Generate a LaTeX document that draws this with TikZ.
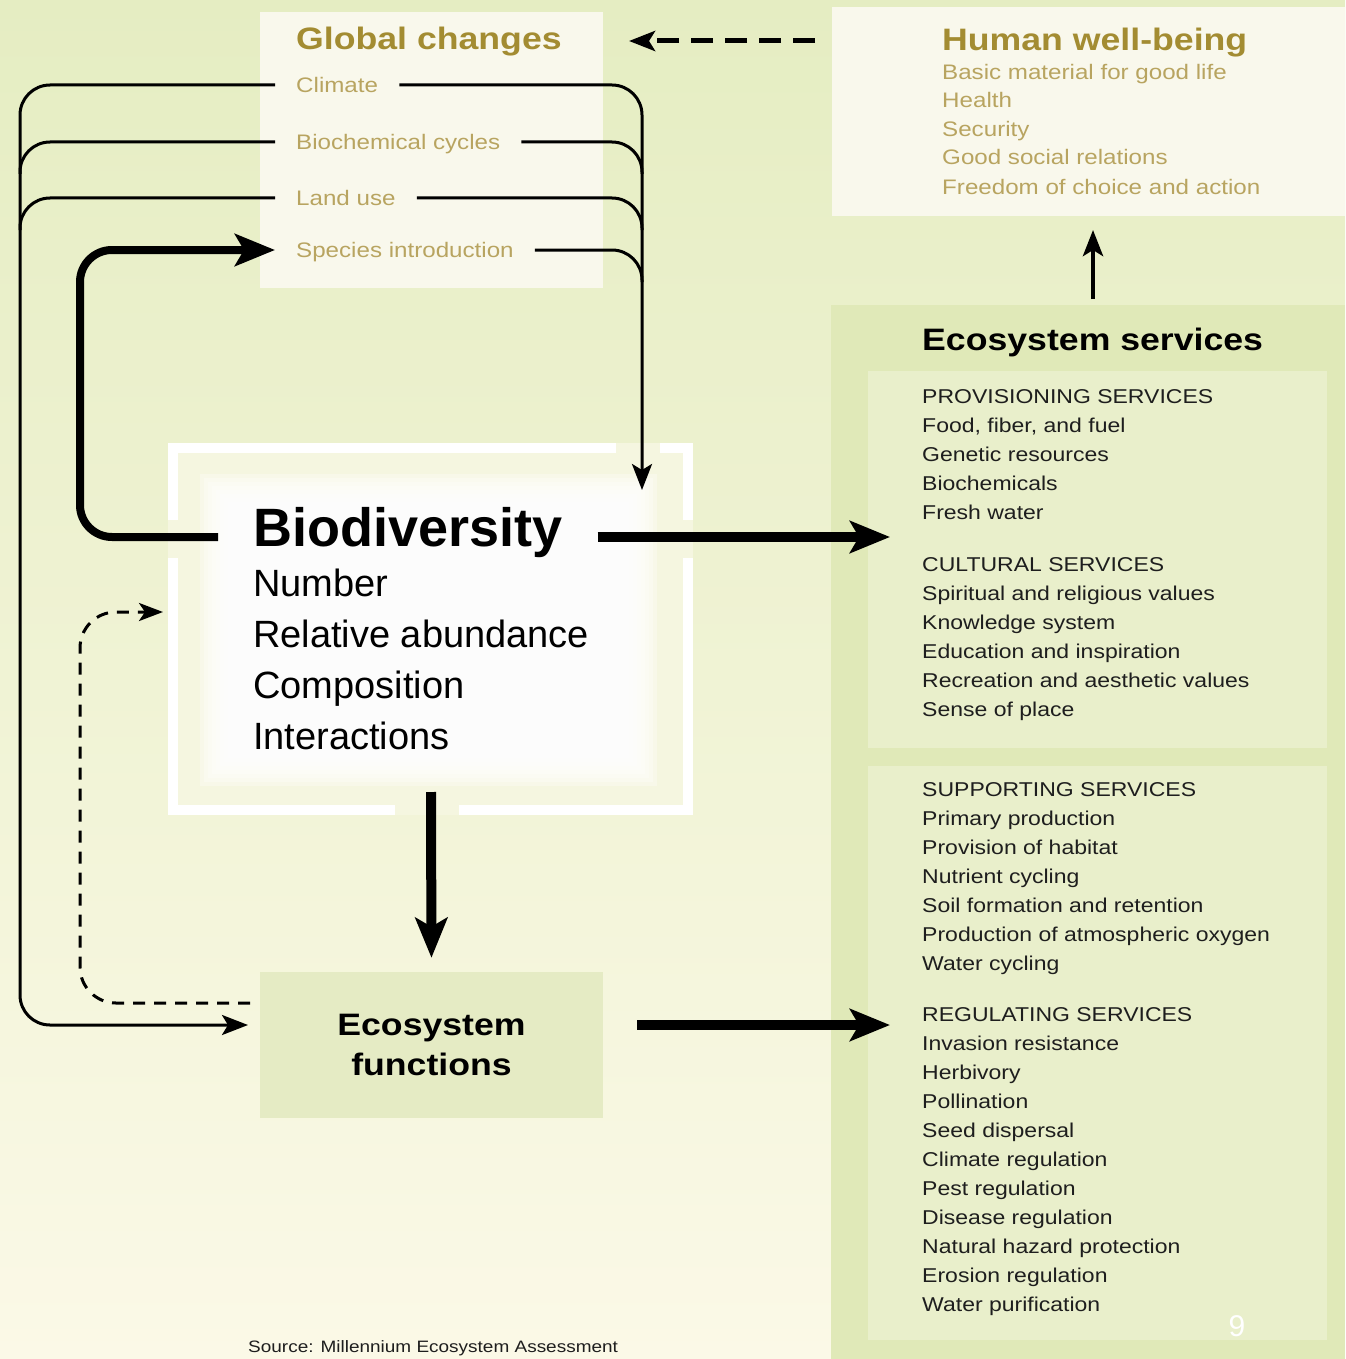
\documentclass[tikz,border=0pt]{standalone}
\usepackage{fontspec}
\setmainfont{Liberation Sans}
\newfontfamily\widesf[FakeStretch=1.15]{Liberation Sans}
\usetikzlibrary{arrows.meta}
\definecolor{bgtop}{RGB}{229,237,194}
\definecolor{bgbot}{RGB}{251,249,231}
\definecolor{boxfill}{RGB}{249,248,236}
\definecolor{panel}{RGB}{224,233,184}
\definecolor{panelin}{RGB}{233,239,203}
\definecolor{efbox}{RGB}{229,235,196}
\definecolor{inframe}{RGB}{245,246,224}
\definecolor{goldtitle}{RGB}{163,140,50}
\definecolor{golditem}{RGB}{184,164,96}
\definecolor{ink}{RGB}{30,30,30}

\begin{document}
\begin{tikzpicture}[x=1pt,y=-1pt,every node/.style={inner sep=0pt},
  head/.style={font=\widesf\bfseries\fontsize{31}{40}\selectfont,anchor=base west},
  gcitem/.style={font=\widesf\fontsize{21}{21}\selectfont,text=golditem,anchor=west,inner xsep=21pt,text height=15pt,text depth=0pt},
  hwitem/.style={font=\widesf\fontsize{21}{21}\selectfont,text=golditem,anchor=base west},
  svitem/.style={font=\widesf\fontsize{20}{20}\selectfont,text=ink,anchor=base west},
  bditem/.style={font=\fontsize{38}{38}\selectfont,anchor=base west},
  wire/.style={line width=3pt,rounded corners=30pt},
  bigtip/.style={-{Stealth[length=40pt,width=32pt,inset=9pt]}},
  smalltip/.style={-{Stealth[length=26pt,width=20pt,inset=6pt]}},
  fat/.style={line width=10pt,bigtip},
  frameline/.style={white,line width=10pt}]
\useasboundingbox (0,0) rectangle (1345,1359);
\shade[top color=bgtop,bottom color=bgbot] (0,0) rectangle (1345,1359);
\fill[boxfill] (260,12) rectangle (603,288);
\fill[boxfill] (832,7) rectangle (1345,216);
\fill[panel] (831,305) rectangle (1345,1359);
\fill[panelin] (868,371) rectangle (1327,748);
\fill[panelin] (868,766) rectangle (1327,1340);

% biodiversity frame
\fill[inframe] (168,443) rectangle (693,815);
\foreach \d in {0,4,...,32}
  \fill[white,opacity=0.3] ({200+\d},{474+\d}) rectangle ({657-\d},{786-\d});
\draw[frameline] (173,520)--(173,448)--(616,448) (660,448)--(688,448)--(688,520)
  (688,558)--(688,810)--(459,810) (395,810)--(173,810)--(173,558);

\node[head,text=goldtitle] (gc) at (296,50) {Global changes};
\foreach \y/\l/\t in {85/climate/Climate,142/bioc/Biochemical cycles,198/landuse/Land use,250/species/Species introduction}
  \node[gcitem] (\l) at (275,\y) {\t};

\node[head,text=goldtitle] (hw) at (942,51) {Human well-being};
\foreach \y/\t [count=\i] in {80/Basic material for good life,108/Health,137/Security,165/Good social relations,194/Freedom of choice and action}
  \node[hwitem] (hw\i) at (942,\y) {\t};

\node[head,text=black] (es) at (922,350) {Ecosystem services};
\foreach \t [count=\i] in {PROVISIONING SERVICES,{Food, fiber, and fuel},Genetic resources,Biochemicals,Fresh water}
  \node[svitem] (prov\i) at (922,{374+29*\i}) {\t};
\foreach \t [count=\i] in {CULTURAL SERVICES,Spiritual and religious values,Knowledge system,Education and inspiration,Recreation and aesthetic values,Sense of place}
  \node[svitem] (cult\i) at (922,{542+29*\i}) {\t};
\foreach \t [count=\i] in {SUPPORTING SERVICES,Primary production,Provision of habitat,Nutrient cycling,Soil formation and retention,Production of atmospheric oxygen,Water cycling}
  \node[svitem] (supp\i) at (922,{767+29*\i}) {\t};
\foreach \t [count=\i] in {REGULATING SERVICES,Invasion resistance,Herbivory,Pollination,Seed dispersal,Climate regulation,Pest regulation,Disease regulation,Natural hazard protection,Erosion regulation,Water purification}
  \node[svitem] (regu\i) at (922,{992+29*\i}) {\t};

\node[font=\bfseries\fontsize{54}{54}\selectfont,anchor=west,inner xsep=35pt,text height=37pt,text depth=19pt] (bd) at (218,537) {Biodiversity};
\foreach \y/\t [count=\i] in {596/Number,647/Relative abundance,698/Composition,749/Interactions}
  \node[bditem] (bd\i) at (253,\y) {\t};

\node[head,anchor=center,align=center,fill=efbox,minimum width=343pt,minimum height=146pt] (ef) at (431.5,1045) {Ecosystem\\functions};

\coordinate (gcdown) at (642,490);
\coordinate (lbot) at (20,1025);
\coordinate (efin) at (248,1025);
\coordinate (loop) at (80,250);
\coordinate (esin1) at (890,537);
\coordinate (bdbot) at (431,792);
\coordinate (efout) at (637,1025);
\coordinate (esin2) at (890,1025);
\coordinate (esup) at (1093,299);
\coordinate (hwin) at (1093,230);
\coordinate (hwout) at (815,41);
\coordinate (gcin) at (629,41);
\coordinate (efdash) at (250,1003);
\coordinate (dturn) at (80,612);
\coordinate (bdin) at (163,612);

\draw[wire,smalltip] (climate.east) -| (gcdown);
\draw[wire,smalltip] (climate.west) -| (lbot) -- (efin);
\foreach \l/\y in {bioc/174,landuse/230,species/282}
  {\coordinate (r\l) at (642,\y); \draw[wire] (\l.east) -| (r\l);}
\foreach \l/\y in {bioc/174,landuse/230}
  {\coordinate (l\l) at (20,\y); \draw[wire] (\l.west) -| (l\l);}

\draw[line width=8pt,rounded corners=32pt,bigtip] (bd.west) -| (loop) -- (species.west);
\draw[fat] (bd.east) -- (esin1);
\draw[fat,shorten >=14pt] (bdbot) -- (ef.north);
\draw[fat] (efout) -- (esin2);
\draw[line width=4.5pt,smalltip] (esup) -- (hwin);
\draw[line width=5pt,dash pattern=on 22pt off 12pt,smalltip] (hwout) -- (gcin);
\draw[line width=3pt,dash pattern=on 12pt off 9pt,rounded corners=36pt,-{Stealth[length=24pt,width=18pt,inset=6pt]}] (efdash) -| (dturn) -- (bdin);

\node[font=\widesf\fontsize{16.5}{16.5}\selectfont,text=ink,anchor=base west] (src) at (248,1352) {Source: Millennium Ecosystem Assessment};
\node[font=\fontsize{30}{30}\selectfont,text=white,anchor=base] (pg) at (1237,1336) {9};
\end{tikzpicture}
\end{document}
